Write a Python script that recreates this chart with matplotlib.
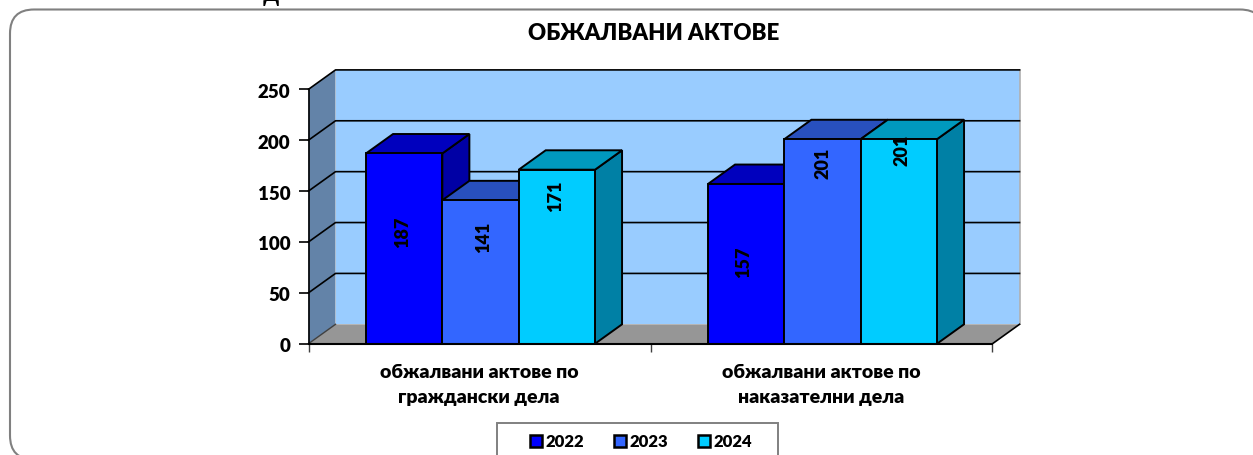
import matplotlib
matplotlib.use('Agg')
import matplotlib.pyplot as plt
from matplotlib.patches import Polygon, FancyBboxPatch, Rectangle
from matplotlib.transforms import IdentityTransform, ScaledTranslation

categories = ['обжалвани актове по\nграждански дела', 'обжалвани актове по\nнаказателни дела']
years = ['2022', '2023', '2024']
values_2022 = [187, 157]
values_2023 = [141, 201]
values_2024 = [171, 201]
y_ticks = [0, 50, 100, 150, 200, 250]

front_colors = ['#0000FF', '#3366FF', '#00CCFF']
top_colors = ['#0000BE', '#2850BE', '#0099BE']
side_colors = ['#0000A5', '#2040A0', '#0080A5']
wall_color = '#99CCFF'
side_wall_color = '#6383A8'
floor_color = '#969696'

W, H = 1253, 455
TEXT_FONT = ['Lato', 'Open Sans', 'DejaVu Sans']
WEIGHT = 'heavy'

# depth of the fake 3d box, in data units
dx = 0.079
dy = 19.06
bar_w = 0.2232
group_shift = 0.003

# the value labels sit unevenly in the source, offset in px from the middle of each bar
label_off_x = [[-2, -3], [3, 0.5], [-1, 3]]
label_off_y = [[16.5, 2], [35, 78], [60, 91]]

fig = plt.figure(figsize=(W / 100, H / 100), dpi=100)
ax = fig.add_axes([308.5 / W, 1 - 343.7 / H, 684 / W, 254.4 / H])
ax.set_xlim(0, 2)
ax.set_ylim(0, 250)
ax.patch.set_visible(False)

# outer rounded frame, runs off the right and bottom of the image
frame = FancyBboxPatch((10, -4.5), 1254, H - 9.5 + 4.5, boxstyle='round,pad=0,rounding_size=24',
                       fc='white', ec='#808080', lw=1.5, zorder=-10)
frame.set_transform(IdentityTransform())
fig.patches.append(frame)

# walls and floor
ax.add_patch(Polygon([(dx, 0 + dy), (2 + dx, 0 + dy), (2 + dx, 250 + dy), (dx, 250 + dy)],
                     fc=wall_color, ec='none', clip_on=False, zorder=1))
ax.add_patch(Polygon([(0, 0), (dx, dy), (dx, 250 + dy), (0, 250)],
                     fc=side_wall_color, ec='none', clip_on=False, zorder=1))
ax.add_patch(Polygon([(0, 0), (2, 0), (2 + dx, dy), (dx, dy)],
                     fc=floor_color, ec='none', clip_on=False, zorder=1))
ax.plot([2 + dx, 2 + dx], [dy, 250 + dy], color='#B0B0B0', lw=1.2, clip_on=False, zorder=1.5)
ax.plot([2, 2 + dx], [0, dy], color='black', lw=1.2, clip_on=False, zorder=1.5)
ax.plot([0, dx], [0, dy], color='#404040', lw=1, clip_on=False, zorder=1.5)

# gridlines on back and side wall
for t in y_ticks[1:]:
    ax.plot([0, dx, 2 + dx], [t, t + dy, t + dy], color='black', lw=1.2, clip_on=False, zorder=2)

# bars, painted left to right so the right ones cover the left
series = [values_2022, values_2023, values_2024]
z = 3
for g in range(len(categories)):
    for s in range(len(years)):
        v = series[s][g]
        x0 = g + 0.5 + group_shift + (s - 1.5) * bar_w
        x1 = x0 + bar_w
        ax.add_patch(Polygon([(x1, 0), (x1 + dx, dy), (x1 + dx, v + dy), (x1, v)],
                             fc=side_colors[s], ec='black', lw=1.4, clip_on=False, zorder=z))
        ax.add_patch(Polygon([(x0, v), (x1, v), (x1 + dx, v + dy), (x0 + dx, v + dy)],
                             fc=top_colors[s], ec='black', lw=1.4, clip_on=False, zorder=z))
        ax.bar(x0, v, width=bar_w, align='edge', color=front_colors[s], edgecolor='black',
               lw=1.4, clip_on=False, zorder=z + 0.5)
        z += 1

# value labels
for g in range(len(categories)):
    for s in range(len(years)):
        v = series[s][g]
        x = g + 0.5 + group_shift + (s - 1) * bar_w
        ax.annotate(str(v), (x, v / 2), xytext=(label_off_x[s][g] * 0.72, label_off_y[s][g] * 0.72),
                    textcoords='offset points', rotation=90, ha='center', va='center',
                    family=TEXT_FONT, fontweight=WEIGHT, fontsize=13, annotation_clip=False, zorder=50)

# axes
for sp in ['top', 'right']:
    ax.spines[sp].set_visible(False)
ax.spines['left'].set_linewidth(1.2)
ax.spines['bottom'].set_linewidth(1.5)
ax.spines['bottom'].set_zorder(45)
ax.spines['left'].set_zorder(45)
ax.set_yticks(y_ticks)
ax.set_yticklabels([str(t) for t in y_ticks], family=TEXT_FONT, fontweight=WEIGHT, fontsize=13.5)
ax.set_xticks([0, 1, 2])
ax.set_xticklabels([])
ax.tick_params(axis='y', length=7, width=1.2, pad=6)
ax.tick_params(axis='x', length=6, width=1, color='#404040')
# numbers sit a little under their ticks in the source
shift_down = ScaledTranslation(0, -1.5 / 100, fig.dpi_scale_trans)
for lab in ax.get_yticklabels():
    lab.set_transform(lab.get_transform() + shift_down)

for g, cat in enumerate(categories):
    ax.text(g + 0.5 - 0.002, -20, cat, ha='center', va='top', family=TEXT_FONT, fontweight=WEIGHT,
            fontsize=14, linespacing=1.55)

fig.text(654 / W, 1 - 34 / H, 'ОБЖАЛВАНИ АКТОВЕ', ha='center', va='center', family=TEXT_FONT,
         fontweight=WEIGHT, fontsize=16)

# cut off letter of the text above the chart
fig.text(271 / W, 1 - 0.5 / H, 'Д', ha='center', va='baseline', family='Liberation Serif',
         fontweight='bold', fontsize=17)

# legend box runs off the bottom of the image
box = Rectangle((497, -20), 281, H - 423 + 20, fc='white', ec='#808080', lw=1.4, zorder=-5)
box.set_transform(IdentityTransform())
fig.patches.append(box)

handles = [plt.Rectangle((0, 0), 1, 1, fc=front_colors[i], ec='black', lw=1.8) for i in range(3)]
leg = fig.legend(handles, years, loc='center left', bbox_to_anchor=(530 / W, 1 - 442 / H), ncol=3,
                 frameon=False, prop={'family': TEXT_FONT, 'weight': WEIGHT, 'size': 12},
                 handlelength=0.7, handleheight=0.7, handletextpad=0.22, columnspacing=1.8,
                 borderpad=0, borderaxespad=0)

fig.savefig('out.png', dpi=100)
